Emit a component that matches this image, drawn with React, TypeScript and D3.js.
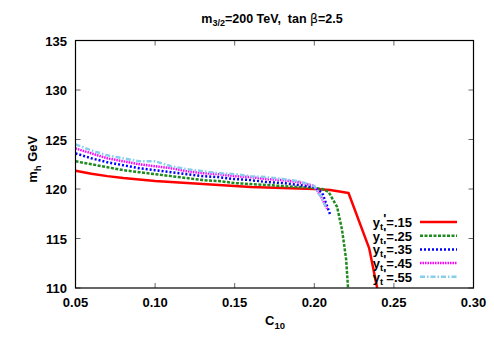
import React from "react";
import * as d3 from "d3";

const W = 494;
const H = 346;

const xTicks = [0.05, 0.1, 0.15, 0.2, 0.25, 0.3];
const yTicks = [110, 115, 120, 125, 130, 135];

const c10 = [0.05, 0.06, 0.07, 0.08, 0.09, 0.1, 0.11, 0.12, 0.13, 0.14, 0.15, 0.16, 0.17, 0.18, 0.19, 0.2];

const red = [121.85, 121.55, 121.3, 121.1, 120.95, 120.8, 120.7, 120.6, 120.5, 120.4, 120.3, 120.2, 120.15, 120.1, 120.05, 120.0];
const redTailX = [0.21, 0.2215, 0.2345, 0.2395];
const redTailY = [119.9, 119.6, 114.0, 110.0];

const green = [122.8, 122.5, 122.2, 121.9, 121.7, 121.5, 121.3, 121.1, 120.9, 120.8, 120.6, 120.5, 120.4, 120.3, 120.2, 120.1];
const greenTailX = [0.205, 0.209, 0.2118, 0.2143, 0.2174, 0.22, 0.2212];
const greenTailY = [120.0, 119.7, 118.9, 118.2, 115.9, 112.9, 110.0];

const blue = [123.6, 123.1, 122.7, 122.4, 122.1, 121.9, 121.7, 121.5, 121.3, 121.2, 121.0, 120.9, 120.7, 120.6, 120.4, 120.2];
const blueTailX = [0.205, 0.21];
const blueTailY = [119.6, 117.4];

const magenta = [124.1, 123.6, 123.1, 122.8, 122.5, 122.3, 122.1, 121.8, 121.6, 121.5, 121.3, 121.2, 121.0, 120.9, 120.7, 120.3];
const magentaTailX = [0.205, 0.208];
const magentaTailY = [119.0, 118.0];

const cyan = [124.5, 123.9, 123.4, 123.1, 122.8, 122.8, 122.3, 122.0, 121.8, 121.6, 121.5, 121.3, 121.2, 121.0, 120.8, 120.3];
const cyanTailX = [0.205, 0.207];
const cyanTailY = [119.0, 118.2];

const labels = [".15", ".25", ".35", ".45", ".55"];

type S = { name: string; xs: number[]; ys: number[]; color: string; dash: string; width: number };

const series: S[] = [
  { name: labels[0], xs: [...c10, ...redTailX], ys: [...red, ...redTailY], color: "#ff0000", dash: "", width: 2.5 },
  { name: labels[1], xs: [...c10, ...greenTailX], ys: [...green, ...greenTailY], color: "#1f8a1f", dash: "3,1.5", width: 2.5 },
  { name: labels[2], xs: [...c10, ...blueTailX], ys: [...blue, ...blueTailY], color: "#0000ff", dash: "2,2", width: 2.5 },
  { name: labels[3], xs: [...c10, ...magentaTailX], ys: [...magenta, ...magentaTailY], color: "#ff00ff", dash: "1.5,1", width: 2.5 },
  { name: labels[4], xs: [...c10, ...cyanTailX], ys: [...cyan, ...cyanTailY], color: "#87ceeb", dash: "5,2,1.5,2", width: 2.5 },
];

export default function App() {
  const left = 75.5, right = 473.5, top = 40.5, bottom = 288;
  const x = d3.scaleLinear().domain([0.05, 0.3]).range([left, right]);
  const y = d3.scaleLinear().domain([110, 135]).range([bottom, top]);
  const line = d3.line<[number, number]>().x((d) => x(d[0])).y((d) => y(d[1]));
  const font = "'Liberation Sans', Arial, Helvetica, sans-serif";
  const legX = 412;
  const legY0 = 222;
  const legDy = 13.7;
  return (
    <svg width={W} height={H} style={{ position: "absolute", left: 0, top: 0, background: "#fff" }} fontFamily={font}>
      <defs>
        <clipPath id="plot">
          <rect x={left} y={top} width={right - left} height={bottom - top} />
        </clipPath>
      </defs>
      <text x={272} y={23} textAnchor="middle" fontSize={12.5} fontWeight="bold" style={{ whiteSpace: "pre" }}>
        m<tspan fontSize={9} dy={3}>3/2</tspan>
        <tspan dy={-3}>{"=200 TeV,\u00a0\u00a0tan "}</tspan>
        <tspan fontFamily="'DejaVu Sans', sans-serif" fontWeight="normal">β</tspan>
        <tspan>=2.5</tspan>
      </text>
      {xTicks.map((t) => (
        <g key={"x" + t}>
          <line x1={x(t)} x2={x(t)} y1={bottom} y2={bottom - 5} stroke="#666" />
          <line x1={x(t)} x2={x(t)} y1={top} y2={top + 5} stroke="#666" />
          <text x={x(t)} y={307} textAnchor="middle" fontSize={13} fontWeight="bold">
            {t.toFixed(2)}
          </text>
        </g>
      ))}
      {yTicks.map((t) => (
        <g key={"y" + t}>
          <line x1={left} x2={left + 5} y1={y(t)} y2={y(t)} stroke="#666" />
          <line x1={right} x2={right - 5} y1={y(t)} y2={y(t)} stroke="#666" />
          <text x={67} y={y(t) + 5} textAnchor="end" fontSize={13} fontWeight="bold">
            {t}
          </text>
        </g>
      ))}
      <text x={275} y={325} textAnchor="middle" fontSize={13} fontWeight="bold">
        C<tspan fontSize={9.5} dy={4}>10</tspan>
      </text>
      <text transform={`translate(37,${(top + bottom) / 2 - 5}) rotate(-90)`} textAnchor="middle" fontSize={13} fontWeight="bold">
        m<tspan fontSize={9.5} dy={4}>h</tspan>
        <tspan dy={-4}>{"\u00a0GeV"}</tspan>
      </text>
      <g clipPath="url(#plot)">
        {series.map((s) => (
          <path
            key={s.name}
            d={line(s.xs.map((v, i) => [v, s.ys[i]] as [number, number])) || ""}
            fill="none"
            stroke={s.color}
            strokeWidth={s.width}
            strokeDasharray={s.dash}
            strokeLinejoin="round"
          />
        ))}
      </g>
      {series.map((s, i) => {
        const ly = legY0 + i * legDy;
        return (
          <g key={"l" + s.name}>
            <text x={legX} y={ly + 5} textAnchor="end" fontSize={13} fontWeight="bold">
              y<tspan fontSize={9.5} dy={3}>t</tspan>
              <tspan dy={-7}>'</tspan>
              <tspan dy={4}>={s.name}</tspan>
            </text>
            <line x1={420} x2={457} y1={ly} y2={ly} stroke={s.color} strokeWidth={s.width} strokeDasharray={s.dash} />
          </g>
        );
      })}
      <rect x={left} y={top} width={right - left} height={bottom - top} fill="none" stroke="#000" strokeWidth={1.2} />
    </svg>
  );
}
